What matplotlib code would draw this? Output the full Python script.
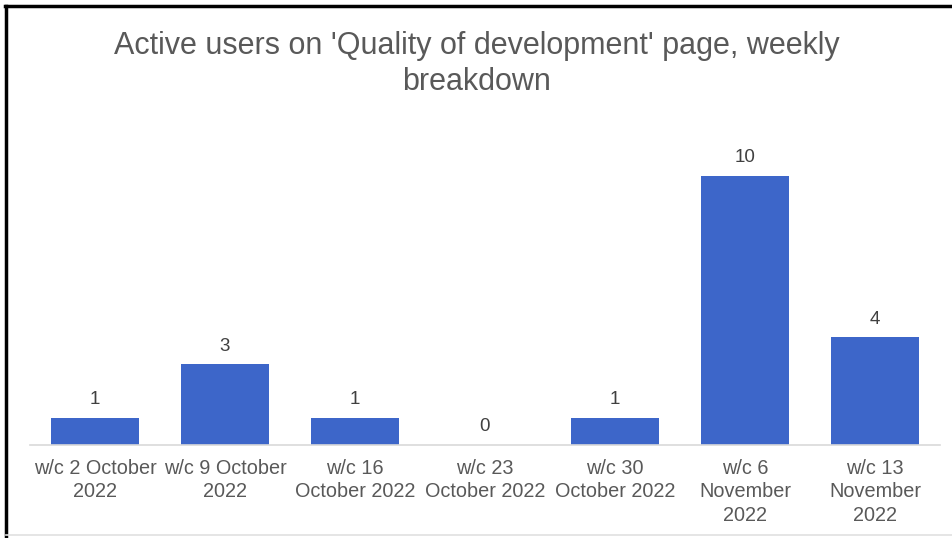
import matplotlib
matplotlib.use("Agg")
import matplotlib.pyplot as plt
from matplotlib.lines import Line2D

categories = ["w/c 2 October\n2022", "w/c 9 October\n2022", "w/c 16\nOctober 2022",
              "w/c 23\nOctober 2022", "w/c 30\nOctober 2022", "w/c 6\nNovember\n2022",
              "w/c 13\nNovember\n2022"]
values = [1, 3, 1, 0, 1, 10, 4]
title = "Active users on 'Quality of development' page, weekly\nbreakdown"

plt.rcParams['font.family'] = ['Liberation Sans', 'DejaVu Sans']
W, H = 953, 538
fig = plt.figure(figsize=(W/100, H/100), dpi=100)
ax = fig.add_axes([30/W, (H-445)/H, 910/W, 296/H])

bar_color = "#3D66C9"
text_color = "#595959"
x = list(range(len(values)))
bars = ax.bar(x, values, width=0.67, color=bar_color)
ax.set_xlim(-0.5, len(values)-0.5)
ax.set_ylim(0, 11)
for xi, v in zip(x, values):
    ax.annotate(str(v), (xi, v), xytext=(0, 7), textcoords="offset points",
                ha="center", va="bottom", fontsize=13.5, color="#404040")

ax.set_xticks(x)
ax.set_xticklabels(categories, fontsize=14.3, color=text_color, linespacing=1.3, va="top")
ax.tick_params(axis="x", length=0, pad=10)
ax.set_yticks([])
for s in ["top", "right", "left"]:
    ax.spines[s].set_visible(False)
ax.spines["bottom"].set_color("#D9D9D9")
ax.spines["bottom"].set_linewidth(1.2)

fig.text(0.5, 1 - 64/H, title, ha="center", va="center", fontsize=22,
         color=text_color, linespacing=1.25)

# outer frame: black left/top edges, light bottom edge
fig.add_artist(Line2D([6/W, 6/W], [0, 1 - 6/H], color="black", lw=2.5, transform=fig.transFigure))
fig.add_artist(Line2D([5/W, 1], [1 - 6/H, 1 - 6/H], color="black", lw=2.5, transform=fig.transFigure))
fig.add_artist(Line2D([6/W, 1], [1 - 535/H, 1 - 535/H], color="#E0E0E0", lw=1.2, transform=fig.transFigure))

fig.savefig("out.png", dpi=100)
